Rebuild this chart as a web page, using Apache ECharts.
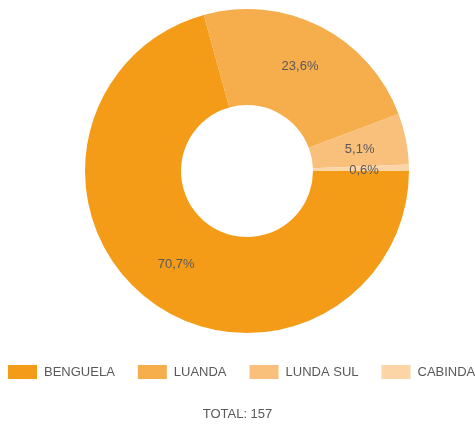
<!DOCTYPE html>
<html>
<head>
<meta charset="utf-8">
<script src="https://cdn.jsdelivr.net/npm/echarts@6/dist/echarts.min.js"></script>
<style>
html,body{margin:0;padding:0;background:#fff;}
#chart{width:475px;height:425px;}
</style>
</head>
<body>
<div id="chart"></div>
<script>
const categories = ['BENGUELA', 'LUANDA', 'LUNDA SUL', 'CABINDA'];
const values = [111, 37, 8, 1];
const colors = ['#F49C18', '#F6AD4B', '#F9C07B', '#FCD5A7'];
const totalLabel = 'TOTAL: 157';

const total = values.reduce((a, b) => a + b, 0);
const chart = echarts.init(document.getElementById('chart'));
const font = 'Liberation Sans, Arial, sans-serif';

chart.setOption({
  animation: false,
  title: {
    text: totalLabel,
    left: 'center',
    top: 403,
    textStyle: { fontFamily: font, fontSize: 13, fontWeight: 'normal', color: '#595959' }
  },
  legend: {
    data: categories,
    left: 8,
    top: 365,
    width: 480,
    padding: 0,
    itemWidth: 29,
    itemHeight: 14,
    itemGap: 23,
    icon: 'rect',
    textStyle: { fontFamily: font, fontSize: 13, color: '#595959', padding: [0, 0, 0, 2] }
  },
  series: [{
    type: 'pie',
    center: [247, 171],
    radius: [66, 162],
    startAngle: 0,
    clockwise: true,
    avoidLabelOverlap: false,
    label: {
      show: true,
      position: 'inside',
      fontFamily: font,
      fontSize: 13,
      color: '#595959',
      formatter: p => (p.value / total * 100).toFixed(1).replace('.', ',') + '%'
    },
    labelLine: { show: false },
    emphasis: { disabled: true },
    data: categories.map((c, i) => ({
      name: c,
      value: values[i],
      itemStyle: { color: colors[i] },
      label: i === 3 ? { offset: [0, 2] } : (i === 2 ? { offset: [-2, 2] } : {})
    }))
  }]
});
</script>
</body>
</html>
